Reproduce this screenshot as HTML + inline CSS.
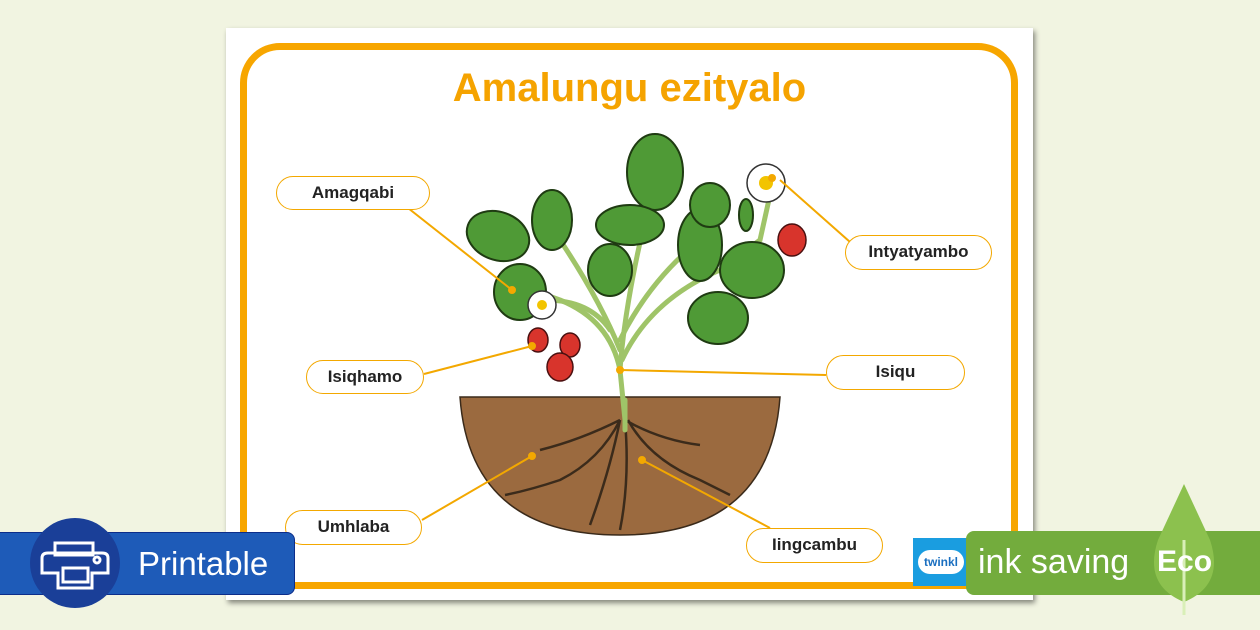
<!DOCTYPE html>
<html><head><meta charset="utf-8"><style>
body{margin:0;width:1260px;height:630px;background:#f1f4e1;overflow:hidden;font-family:"Liberation Sans",sans-serif;position:relative}
.card{position:absolute;left:226px;top:28px;width:807px;height:572px;background:#fff;box-shadow:2px 3px 5px rgba(0,0,0,.45)}
.frame{position:absolute;left:240px;top:43px;width:764px;height:532px;border:7px solid #f7a600;border-radius:40px}
.title{position:absolute;left:226px;width:807px;top:66px;text-align:center;color:#f5a300;font-weight:bold;font-size:40px}
.pill{position:absolute;border:1.5px solid #f3a800;border-radius:18px;background:#fff;text-align:center;font-weight:bold;font-size:17px;color:#222;box-sizing:border-box}
</style></head><body>
<div class="card"></div><div class="frame"></div>
<div class="title">Amalungu ezityalo</div>
<svg width="1260" height="630" style="position:absolute;left:0;top:0">
<path d="M460 397 L780 397 Q770 535 620 535 Q470 535 460 397Z" fill="#9b6a3f" stroke="#3a2a1a" stroke-width="1.5"/>
<g stroke="#3b2b1b" stroke-width="2.5" fill="none">
<path d="M620 420 Q600 460 560 480 Q530 490 505 495"/><path d="M620 420 Q610 470 590 525"/><path d="M625 420 Q630 480 620 530"/><path d="M628 420 Q650 460 700 480 Q720 490 730 495"/><path d="M625 420 Q660 440 700 445"/><path d="M620 420 Q580 440 540 450"/>
</g>
<g stroke="#9fc468" stroke-width="5" fill="none" stroke-linecap="round">
<path d="M625 420 L620 370 Q610 320 560 300 Q530 290 505 275"/><path d="M620 370 Q625 300 650 200 L655 160"/><path d="M622 360 Q650 300 720 270 L760 240 L770 195"/><path d="M620 350 Q600 300 560 240 L555 215"/><path d="M620 340 Q650 280 700 240"/><path d="M610 330 Q590 300 545 300"/><path d="M625 430 L625 400"/>
</g>
<g fill="#4f9a36" stroke="#1f3b12" stroke-width="2">
<ellipse cx="498" cy="236" rx="32" ry="24" transform="rotate(20 498 236)"/>
<ellipse cx="552" cy="220" rx="20" ry="30"/>
<ellipse cx="655" cy="172" rx="28" ry="38"/>
<ellipse cx="630" cy="225" rx="34" ry="20"/>
<ellipse cx="700" cy="245" rx="22" ry="36"/>
<ellipse cx="710" cy="205" rx="20" ry="22"/>
<ellipse cx="610" cy="270" rx="22" ry="26"/>
<ellipse cx="752" cy="270" rx="32" ry="28"/>
<ellipse cx="718" cy="318" rx="30" ry="26"/>
<ellipse cx="520" cy="292" rx="26" ry="28"/>
<ellipse cx="746" cy="215" rx="7" ry="16"/>
</g>
<g fill="#d8342c" stroke="#4a1010" stroke-width="1.5">
<ellipse cx="792" cy="240" rx="14" ry="16"/><ellipse cx="538" cy="340" rx="10" ry="12"/><ellipse cx="570" cy="345" rx="10" ry="12"/><ellipse cx="560" cy="367" rx="13" ry="14"/>
</g>
<g fill="#fff" stroke="#333" stroke-width="1.5"><circle cx="766" cy="183" r="19"/><circle cx="542" cy="305" r="14"/></g>
<circle cx="766" cy="183" r="7" fill="#f2c400"/><circle cx="542" cy="305" r="5" fill="#f2c400"/>
<g stroke="#f3a800" stroke-width="2" fill="#f3a800">
<line x1="408" y1="208" x2="512" y2="290"/><circle cx="512" cy="290" r="3"/>
<line x1="780" y1="180" x2="850" y2="242"/><circle cx="772" cy="178" r="3"/>
<line x1="424" y1="374" x2="532" y2="346"/><circle cx="532" cy="346" r="3"/>
<line x1="620" y1="370" x2="826" y2="375"/><circle cx="620" cy="370" r="3"/>
<line x1="422" y1="520" x2="532" y2="456"/><circle cx="532" cy="456" r="3"/>
<line x1="642" y1="460" x2="770" y2="528"/><circle cx="642" cy="460" r="3"/>
</g>
</svg>
<div class="pill" style="left:276px;top:176px;width:154px;height:34px;line-height:31px">Amagqabi</div>
<div class="pill" style="left:845px;top:235px;width:147px;height:35px;line-height:32px">Intyatyambo</div>
<div class="pill" style="left:306px;top:360px;width:118px;height:34px;line-height:31px">Isiqhamo</div>
<div class="pill" style="left:826px;top:355px;width:139px;height:35px;line-height:32px">Isiqu</div>
<div class="pill" style="left:285px;top:510px;width:137px;height:35px;line-height:32px">Umhlaba</div>
<div class="pill" style="left:746px;top:528px;width:137px;height:35px;line-height:32px">Iingcambu</div>
<div style="position:absolute;left:0;top:532px;width:295px;height:63px;background:#1e5bb8;border:1.5px solid #0c2d8a;border-left:none;border-radius:0 8px 8px 0;box-sizing:border-box"></div>
<div style="position:absolute;left:30px;top:518px;width:90px;height:90px;border-radius:50%;background:#1a3f98"></div>
<svg width="90" height="90" style="position:absolute;left:30px;top:518px" fill="none" stroke="#fff" stroke-width="3"><rect x="25" y="25" width="38" height="12"/><path d="M12 55 V40 Q12 35 18 35 H72 Q78 35 78 40 V55 H62 V70 H28 V55Z"/><rect x="33" y="50" width="25" height="14"/><circle cx="67" cy="42" r="3"/></svg>
<div style="position:absolute;left:138px;top:545px;color:#fff;font-size:33px">Printable</div>
<div style="position:absolute;left:913px;top:538px;width:60px;height:48px;background:#1a9de0"></div>
<div style="position:absolute;left:918px;top:550px;width:46px;height:24px;background:#fff;border-radius:12px;color:#1a6fc0;font-size:12px;font-weight:bold;text-align:center;line-height:24px">twinkl</div>
<div style="position:absolute;left:966px;top:531px;width:300px;height:64px;background:#73ac3d;border-radius:8px 0 0 8px"></div>
<svg width="80" height="150" style="position:absolute;left:1145px;top:480px"><path d="M39 4 L65 60 Q80 105 39 122 Q-2 105 13 60Z" fill="#8cc14e"/><line x1="39" y1="60" x2="39" y2="135" stroke="#d9efb8" stroke-width="3"/></svg>
<div style="position:absolute;left:978px;top:543px;color:#fff;font-size:34px">ink saving</div>
<div style="position:absolute;left:1157px;top:545px;color:#fff;font-size:30px;font-weight:bold">Eco</div>
</body></html>
